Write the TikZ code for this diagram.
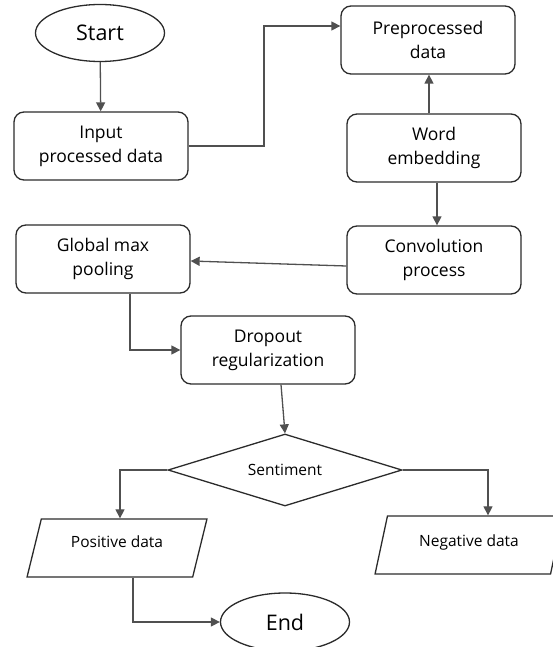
\documentclass[tikz,border=0pt]{standalone}
\usepackage{fontspec}
\setmainfont{Open Sans}
\usetikzlibrary{arrows.meta, shapes.geometric, positioning}
\definecolor{edgeGrey}{HTML}{2B2B2B}
\definecolor{lineGrey}{HTML}{505050}
\tikzset{
  flowline/.style  = {-{Triangle[length=9pt, width=9pt]}, line width=1.3pt, lineGrey},
  procbox/.style   = {draw=edgeGrey, line width=1.3pt, rounded corners=10pt,
                      minimum width=174pt, minimum height=68pt, align=center,
                      font=\fontsize{17.5}{24}\selectfont},
  termnode/.style  = {ellipse, draw=edgeGrey, line width=1.3pt,
                      minimum width=129pt, minimum height=57pt,
                      font=\fontsize{21.5}{24}\selectfont},
  decnode/.style   = {diamond, aspect=3.2, draw=edgeGrey, line width=1.3pt, inner sep=0pt,
                      minimum width=234pt, minimum height=72pt,
                      font=\fontsize{15.5}{18}\selectfont},
  ionode/.style    = {trapezium, trapezium left angle=73, trapezium right angle=107,
                      trapezium stretches=true, draw=edgeGrey, line width=1.3pt,
                      minimum height=58pt, font=\fontsize{15.5}{18}\selectfont},
}

\begin{document}
\begin{tikzpicture}[x=1pt, y=-1pt]
  \useasboundingbox (0,0) rectangle (552,647);
  % nodes
  \node[termnode] (start) at (100,33) {Start};
  \node[procbox]  (input) at (101,146) {Input\\processed data};
  \node[procbox]  (prep)  at (428,40) {Preprocessed\\data};
  \node[procbox]  (word)  at (434,148) {Word\\embedding};
  \node[procbox]  (conv)  at (434,260) {Convolution\\process};
  \node[procbox]  (glob)  at (103,259) {Global max\\pooling};
  \node[procbox]  (drop)  at (268,350) {Dropout\\regularization};
  \node[decnode]  (sent)  at (285,470) {Sentiment};
  \node[ionode, minimum width=180pt] (pos) at (117,548) {\raisebox{12pt}{Positive data}};
  \node[ionode, minimum width=188pt] (neg) at (469,545) {\raisebox{8pt}{Negative data}};
  \node[termnode, minimum height=58pt] (end) at (285,622) {End};
  % connectors
  \draw[flowline] (start) -- (input);
  \draw[flowline] (input.east) -| (264,26) -- (prep.west |- 0,26);
  \draw[flowline] (word.north -| 429,0) -- (prep.south -| 429,0);
  \draw[flowline] (word.south -| 437,0) -- (conv.north -| 437,0);
  \draw[flowline] ([yshift=-6pt]conv.west) -- ([yshift=-2pt]glob.east);
  \draw[flowline] (glob.south -| 130,0) |- (drop.west);
  \draw[flowline] ([xshift=13pt]drop.south) -- (sent.north);
  \draw[flowline] (sent.west) -| ([xshift=3pt]pos.north);
  \draw[flowline] (sent.east) -| ([xshift=19pt]neg.north);
  \draw[flowline] (pos.south -| 133,0) |- (end.west);
\end{tikzpicture}
\end{document}
